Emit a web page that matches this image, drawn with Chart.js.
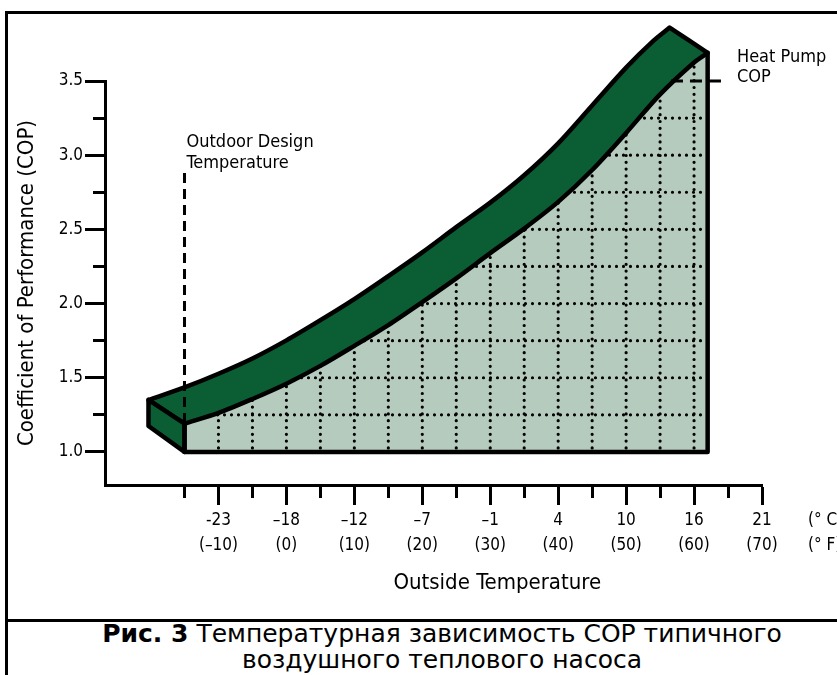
<!DOCTYPE html>
<html><head><meta charset="utf-8">
<script src="https://cdn.jsdelivr.net/npm/chart.js@4.4.1/dist/chart.umd.min.js"></script>
<style>
html,body{margin:0;padding:0;background:#fff;overflow:hidden;}
body{width:837px;height:675px;position:relative;}
#frame{position:absolute;left:5px;top:11px;width:900px;height:700px;border-left:3px solid #000;border-top:3px solid #000;}
#sep{position:absolute;left:5px;top:619px;width:900px;height:3px;background:#000;}
#cap{position:absolute;left:6px;width:872px;top:621px;text-align:center;font-family:'DejaVu Sans',Verdana,sans-serif;font-size:25px;line-height:26px;color:#000;}
#wrap{position:absolute;left:0;top:0;width:837px;height:618px;}
</style></head><body>
<div id="frame"></div><div id="sep"></div>
<div id="cap"><b>Рис. 3</b> Температурная зависимость COP типичного<br>воздушного теплового насоса</div>
<div id="wrap"><canvas id="c" width="837" height="618"></canvas></div>
<script>
// ---- data (x in °F, y in COP) ----
const frontTempF = [-15, -10, -5, 0, 5, 10, 15, 20, 25, 30, 35, 40, 45, 50, 55, 60, 62];
const frontCop   = [1.19, 1.263, 1.357, 1.46, 1.58, 1.715, 1.855, 2.01, 2.17, 2.34, 2.505, 2.685, 2.90, 3.15, 3.41, 3.625, 3.69];
const backTempF  = [-20.3, -15, -10, -5, 0, 5, 10, 15, 20, 25, 30, 35, 40, 45, 50, 54, 56.4];
const backCop    = [1.35, 1.435, 1.527, 1.63, 1.752, 1.888, 2.03, 2.185, 2.345, 2.515, 2.68, 2.865, 3.08, 3.335, 3.59, 3.77, 3.86];
const baseCop = 1.0;
const sideBackBottomCop = 1.175;
const designTempF = [-15, -15];
const designCop = [2.88, 1.19];
const leaderTempF = [56.6, 64.4];
const leaderCop = [3.5, 3.5];
const xTickValues = [-15, -10, -5, 0, 5, 10, 15, 20, 25, 30, 35, 40, 45, 50, 55, 60, 65, 70];
const xMajorValues = [-10, 0, 10, 20, 30, 40, 50, 60, 70];
const xTickLabelsC = ['-23', '–18', '–12', '–7', '–1', '4', '10', '16', '21'];
const xTickLabelsF = ['(–10)', '(0)', '(10)', '(20)', '(30)', '(40)', '(50)', '(60)', '(70)'];
const yTickValues = [1.0, 1.25, 1.5, 1.75, 2.0, 2.25, 2.5, 2.75, 3.0, 3.25, 3.5];
const yMajorValues = [1.0, 1.5, 2.0, 2.5, 3.0, 3.5];
const yTickLabels = ['1.0', '1.5', '2.0', '2.5', '3.0', '3.5'];
const gridTempF = [-10, -5, 0, 5, 10, 15, 20, 25, 30, 35, 40, 45, 50, 55, 60];
const gridCop = [1.25, 1.5, 1.75, 2.0, 2.25, 2.5, 2.75, 3.0, 3.25];

const DARK = '#0b5e33';
const LIGHT = '#b5cbbd';
const COND = "'DejaVu Sans Condensed', 'Liberation Sans Narrow', sans-serif";

const pts = (xs, ys) => xs.map((x, i) => ({x: x, y: ys[i]}));
const front = pts(frontTempF, frontCop);
const back = pts(backTempF, backCop);
const fStart = front[0], fEnd = front[front.length - 1];
const bStart = back[0], bEnd = back[back.length - 1];
const baseRight = {x: fEnd.x, y: baseCop};
const baseLeft = {x: fStart.x, y: baseCop};

// polygons built from the arrays (corner points doubled to keep corners sharp)
const frontFacePoly = [...front, fEnd, baseRight, baseRight, baseLeft, baseLeft, fStart];
const topFacePoly = [...front, fEnd, bEnd, ...back.slice().reverse(), bStart, fStart];
const sideFacePoly = [bStart, fStart, baseLeft, {x: bStart.x, y: sideBackBottomCop}, bStart];
const frontOutline = [fStart, baseLeft, baseRight, fEnd];

const isIn = (arr, v) => arr.some(a => Math.abs(a - v) < 1e-6);

const shapes = {
  id: 'shapes',
  beforeDatasetDraw(chart, args) {
    const ds = chart.data.datasets[args.index];
    if (!ds.polyFill) return;
    const line = args.meta.dataset;
    line.updateControlPoints(chart.chartArea, args.meta.iScale.axis);
    const ctx = chart.ctx;
    ctx.save();
    ctx.beginPath();
    line.path(ctx);
    ctx.closePath();
    ctx.fillStyle = ds.polyFill;
    ctx.fill();
    ctx.restore();
  },
  afterDatasetDraw(chart, args) {
    if (chart.data.datasets[args.index].label !== 'frontFace') return;
    const ctx = chart.ctx, xs = chart.scales.x, ys = chart.scales.y;
    ctx.save();
    ctx.beginPath();
    args.meta.dataset.path(ctx);
    ctx.closePath();
    ctx.clip();
    ctx.strokeStyle = '#000';
    ctx.lineWidth = 3.2;
    ctx.lineCap = 'round';
    ctx.setLineDash([0, 6.8]);
    gridTempF.forEach(v => {
      const px = xs.getPixelForValue(v);
      ctx.beginPath();
      ctx.moveTo(px, ys.getPixelForValue(baseCop) - 4);
      ctx.lineTo(px, 0);
      ctx.stroke();
    });
    ctx.setLineDash([0, 7]);
    gridCop.forEach(v => {
      const py = ys.getPixelForValue(v);
      ctx.beginPath();
      ctx.moveTo(xs.getPixelForValue(fStart.x) + 5, py);
      ctx.lineTo(xs.right, py);
      ctx.stroke();
    });
    ctx.restore();
  },
  afterDatasetsDraw(chart) {
    const ctx = chart.ctx, xs = chart.scales.x, ys = chart.scales.y;
    ctx.save();
    ctx.fillStyle = '#000';
    ctx.textAlign = 'left';
    ctx.textBaseline = 'alphabetic';
    ctx.font = '18px ' + COND;
    const dx = xs.getPixelForValue(designTempF[0]) + 2;
    const dy = ys.getPixelForValue(designCop[0]);
    ctx.fillText('Outdoor Design', dx, dy - 26);
    ctx.fillText('Temperature', dx, dy - 5);
    const hx = xs.getPixelForValue(leaderTempF[1]) + 13;
    const hy = ys.getPixelForValue(leaderCop[0]);
    ctx.fillText('Heat Pump', hx, hy - 19);
    ctx.fillText('COP', hx, hy + 1);
    ctx.font = '17px ' + COND;
    ctx.textBaseline = 'middle';
    ctx.fillText('(° C)', xs.right + 46, 521);
    ctx.fillText('(° F)', xs.right + 46, 546);
    ctx.font = '22px ' + COND;
    ctx.textAlign = 'center';
    const tx = (xs.getPixelForValue(-15) + xs.right + 48) / 2;
    ctx.fillText('Outside Temperature', tx, 583);
    ctx.restore();
  }
};

const common = {pointRadius: 0, pointHoverRadius: 0, borderColor: '#000', borderJoinStyle: 'round', borderCapStyle: 'round', fill: false, clip: false};

new Chart(document.getElementById('c'), {
  type: 'line',
  data: {
    datasets: [
      Object.assign({}, common, {label: 'design', data: pts(designTempF, designCop), borderWidth: 3, borderDash: [10, 6], borderCapStyle: 'butt', tension: 0, order: 1}),
      Object.assign({}, common, {label: 'leader', data: pts(leaderTempF, leaderCop), borderWidth: 3, borderDash: [12, 7], borderCapStyle: 'butt', tension: 0, order: 2}),
      Object.assign({}, common, {label: 'outline', data: frontOutline, borderWidth: 4.5, tension: 0, order: 3}),
      Object.assign({}, common, {label: 'sideFace', data: sideFacePoly, borderWidth: 4.5, polyFill: DARK, tension: 0, order: 4}),
      Object.assign({}, common, {label: 'topFace', data: topFacePoly, borderWidth: 4.5, polyFill: DARK, tension: 0.3, order: 5}),
      Object.assign({}, common, {label: 'frontFace', data: frontFacePoly, borderWidth: 0, polyFill: LIGHT, tension: 0.3, order: 6})
    ]
  },
  options: {
    responsive: false,
    animation: false,
    devicePixelRatio: 1,
    layout: {padding: {left: 0, top: 81, right: 75, bottom: 0}},
    plugins: {legend: {display: false}, tooltip: {enabled: false}, title: {display: false}},
    elements: {line: {capBezierPoints: false}},
    scales: {
      x: {
        type: 'linear', min: -26.7, max: 70,
        afterBuildTicks: s => { s.ticks = xTickValues.map(v => ({value: v})); },
        afterFit: s => { s.height = 133; },
        border: {display: true, color: '#000', width: 3},
        grid: {
          drawOnChartArea: false, drawTicks: true, tickLength: 20, tickWidth: 3, tickColor: '#000',
          tickBorderDash: c => isIn(xMajorValues, c.tick.value) ? [] : [11, 30]
        },
        ticks: {
          autoSkip: false, maxRotation: 0, minRotation: 0, padding: 3, color: '#000',
          font: {family: COND, size: 17, lineHeight: 1.47},
          callback: v => {
            const i = xMajorValues.findIndex(a => Math.abs(a - v) < 1e-6);
            return i < 0 ? '' : [xTickLabelsC[i], xTickLabelsF[i]];
          }
        }
      },
      y: {
        type: 'linear', min: 0.777, max: 3.5,
        afterBuildTicks: s => { s.ticks = yTickValues.map(v => ({value: v})); },
        afterFit: s => { s.width = 105; },
        border: {display: true, color: '#000', width: 3},
        grid: {
          drawOnChartArea: false, drawTicks: true, tickLength: 20, tickWidth: 3, tickColor: '#000',
          tickBorderDash: c => isIn(yMajorValues, c.tick.value) ? [] : [12, 8],
          tickBorderDashOffset: c => isIn(yMajorValues, c.tick.value) ? 0 : 12
        },
        title: {display: true, text: 'Coefficient of Performance (COP)', color: '#000', font: {family: COND, size: 22, lineHeight: 1.2}, padding: {top: 14, bottom: 0}},
        ticks: {
          autoSkip: false, padding: 2, color: '#000',
          font: {family: COND, size: 17},
          callback: v => {
            const i = yMajorValues.findIndex(a => Math.abs(a - v) < 1e-6);
            return i < 0 ? '' : yTickLabels[i];
          }
        }
      }
    }
  },
  plugins: [shapes]
});
</script>
</body></html>
